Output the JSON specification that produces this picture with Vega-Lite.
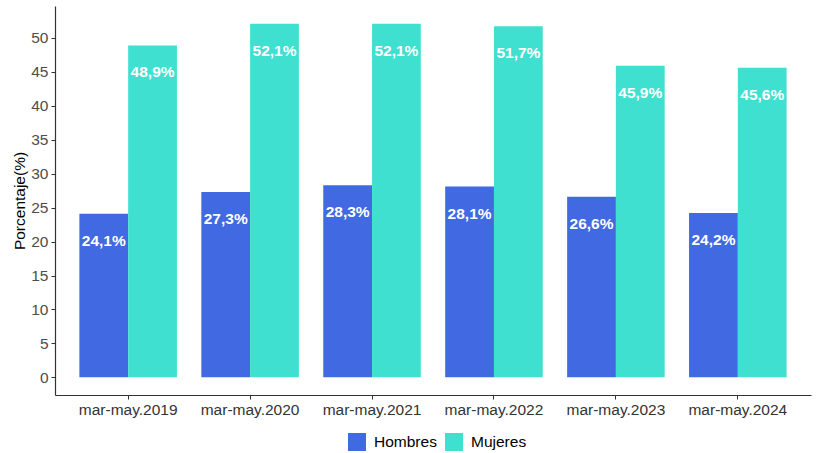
{
  "$schema": "https://vega.github.io/schema/vega-lite/v6.json",
  "width": 756,
  "height": 389,
  "autosize": "none",
  "padding": {"left": 55, "top": 6, "right": 7, "bottom": 58},
  "background": "white",
  "config": {
    "font": "Liberation Sans",
    "view": {"stroke": null},
    "axis": {"grid": false, "domainColor": "#333333", "domainWidth": 1.2, "tickColor": "#333333", "tickSize": 4, "labelFontSize": 15.5, "labelColor": "#4D4D4D", "titleFontSize": 15.5, "titleFontWeight": "normal", "titleColor": "#000000"}
  },
  "data": {
    "values": [
      {"periodo": "mar-may.2019", "sexo": "Hombres", "valor": 24.1, "etiqueta": "24,1%"},
      {"periodo": "mar-may.2019", "sexo": "Mujeres", "valor": 48.9, "etiqueta": "48,9%"},
      {"periodo": "mar-may.2020", "sexo": "Hombres", "valor": 27.3, "etiqueta": "27,3%"},
      {"periodo": "mar-may.2020", "sexo": "Mujeres", "valor": 52.1, "etiqueta": "52,1%"},
      {"periodo": "mar-may.2021", "sexo": "Hombres", "valor": 28.3, "etiqueta": "28,3%"},
      {"periodo": "mar-may.2021", "sexo": "Mujeres", "valor": 52.1, "etiqueta": "52,1%"},
      {"periodo": "mar-may.2022", "sexo": "Hombres", "valor": 28.1, "etiqueta": "28,1%"},
      {"periodo": "mar-may.2022", "sexo": "Mujeres", "valor": 51.7, "etiqueta": "51,7%"},
      {"periodo": "mar-may.2023", "sexo": "Hombres", "valor": 26.6, "etiqueta": "26,6%"},
      {"periodo": "mar-may.2023", "sexo": "Mujeres", "valor": 45.9, "etiqueta": "45,9%"},
      {"periodo": "mar-may.2024", "sexo": "Hombres", "valor": 24.2, "etiqueta": "24,2%"},
      {"periodo": "mar-may.2024", "sexo": "Mujeres", "valor": 45.6, "etiqueta": "45,6%"}
    ]
  },
  "encoding": {
    "x": {"field": "periodo", "type": "nominal", "title": null,
      "scale": {"paddingInner": 0.2, "paddingOuter": 0.2},
      "axis": {"labelAngle": 0, "labelColor": "#333333", "labelPadding": 3}},
    "xOffset": {"field": "sexo", "type": "nominal", "scale": {"paddingInner": 0, "paddingOuter": 0}},
    "y": {"field": "valor", "type": "quantitative", "title": "Porcentaje(%)",
      "scale": {"domain": [-2.6, 54.7], "nice": false, "zero": false},
      "axis": {"values": [0, 5, 10, 15, 20, 25, 30, 35, 40, 45, 50], "titlePadding": 3, "labelPadding": 3}}
  },
  "layer": [
    {
      "mark": {"type": "bar", "y2": {"expr": "scale('y', 0)"}},
      "encoding": {
        "color": {"field": "sexo", "type": "nominal", "title": null,
          "scale": {"domain": ["Hombres", "Mujeres"], "range": ["#4169E1", "#40E0D0"]},
          "legend": {"orient": "none", "legendX": 293, "legendY": 427, "direction": "horizontal", "symbolType": "square", "symbolSize": 324, "symbolStrokeWidth": 0, "symbolOpacity": 1, "labelFontSize": 15.5, "labelColor": "#000000", "labelOffset": 8, "columnPadding": 8}}
      }
    },
    {
      "mark": {"type": "text", "color": "white", "fontWeight": "bold", "fontSize": 15.5, "baseline": "middle", "dy": 27},
      "encoding": {"text": {"field": "etiqueta"}}
    }
  ]
}
